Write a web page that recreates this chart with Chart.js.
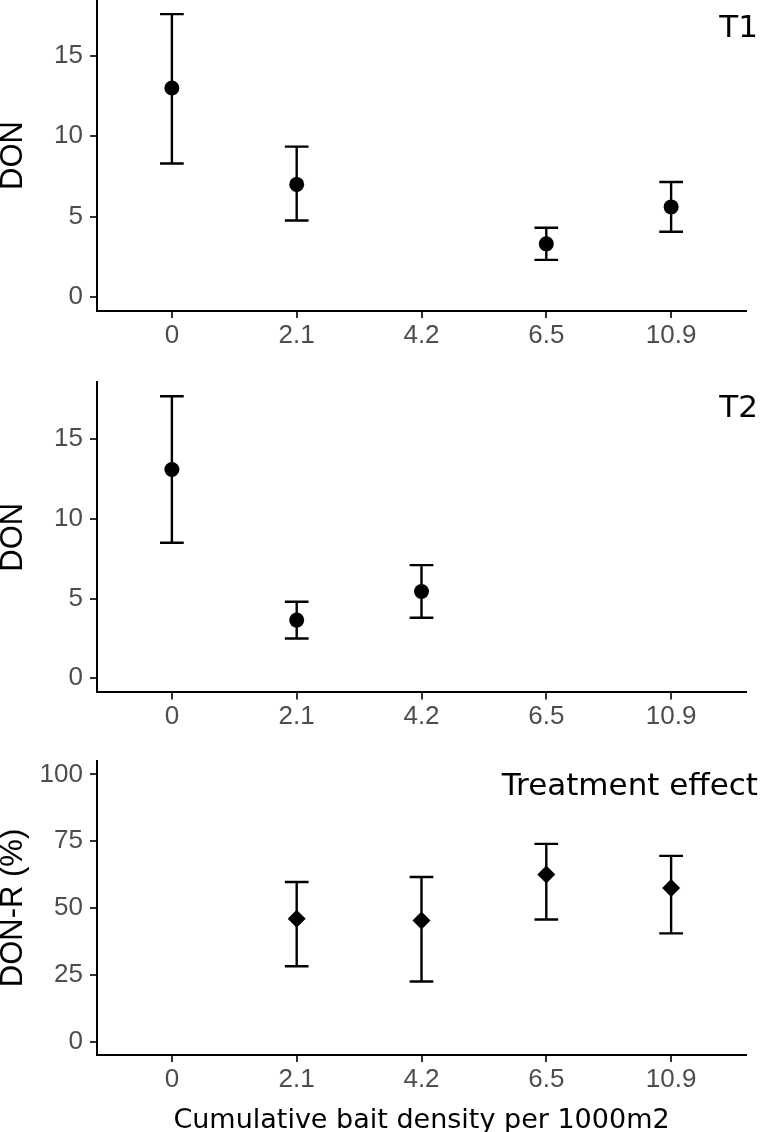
<!DOCTYPE html>
<html>
<head>
<meta charset="utf-8">
<script src="https://cdn.jsdelivr.net/npm/chart.js@4.4.0/dist/chart.umd.min.js"></script>
<style>
  html, body { margin: 0; padding: 0; background: #fff; }
  #wrap { position: relative; width: 760px; height: 1132px; overflow: hidden; }
  canvas { position: absolute; left: 0; }
</style>
</head>
<body>
<div id="wrap">
  <canvas id="t1Chart" width="760" height="370" style="top:-8px"></canvas>
  <canvas id="t2Chart" width="760" height="383" style="top:362px"></canvas>
  <canvas id="effChart" width="760" height="387" style="top:745px"></canvas>
</div>
<script>
// categories (bait density per 1000m2)
const densities = ["0", "2.1", "4.2", "6.5", "10.9"];

// T1 DON (mean and interval)
const t1Mean  = [13.0, 7.0,  null, 3.3,  5.6];
const t1Lower = [8.3,  4.75, null, 2.3,  4.05];
const t1Upper = [17.6, 9.35, null, 4.3,  7.15];

// T2 DON
const t2Mean  = [13.1, 3.65, 5.45, null, null];
const t2Lower = [8.5,  2.5,  3.8,  null, null];
const t2Upper = [17.7, 4.8,  7.1,  null, null];

// Treatment effect DON-R (%)
const effMean  = [null, 46.0, 45.3, 62.5, 57.5];
const effLower = [null, 28.2, 22.5, 45.7, 40.5];
const effUpper = [null, 59.7, 61.6, 74.0, 69.5];

// tick labels
const donTicks = [0, 5, 10, 15];
const pctTicks = [0, 25, 50, 75, 100];

const tickFont = { family: "'Liberation Sans', Arial, sans-serif", size: 26 };
const tickColor = "#4d4d4d";

// draws the vertical error bars with caps, under the points
const errorBars = {
    id: "errorBars",
    beforeDatasetsDraw(chart, args, opts) {
        const { ctx, scales: { x, y } } = chart;
        ctx.save();
        ctx.strokeStyle = "#000";
        ctx.lineWidth = 2.4;
        chart.data.datasets[0].data.forEach(p => {
            const px = x.getPixelForValue(p.x);
            const half = x.getPixelForValue(p.x + opts.capWidth / 2) - px;
            const yl = y.getPixelForValue(p.low);
            const yh = y.getPixelForValue(p.high);
            ctx.beginPath();
            ctx.moveTo(px, yl); ctx.lineTo(px, yh);
            ctx.moveTo(px - half, yl); ctx.lineTo(px + half, yl);
            ctx.moveTo(px - half, yh); ctx.lineTo(px + half, yh);
            ctx.stroke();
        });
        ctx.restore();
    }
};

// panel label in the top right corner
const panelLabel = {
    id: "panelLabel",
    afterDraw(chart, args, opts) {
        const ctx = chart.ctx;
        ctx.save();
        ctx.font = "31px 'DejaVu Sans', Verdana, sans-serif";
        ctx.fillStyle = "#000";
        ctx.textAlign = "right";
        ctx.textBaseline = "alphabetic";
        ctx.fillText(opts.text, chart.width - 2, chart.chartArea.top + opts.dy);
        ctx.restore();
    }
};

function makePanel(id, cfg) {
    const points = [];
    cfg.mean.forEach((m, i) => {
        if (m !== null) points.push({ x: i, y: m, low: cfg.lower[i], high: cfg.upper[i] });
    });

    return new Chart(document.getElementById(id), {
        type: "scatter",
        data: {
            datasets: [{
                data: points,
                pointStyle: cfg.marker,
                pointRadius: cfg.radius,
                pointHoverRadius: cfg.radius,
                pointBackgroundColor: "#000",
                pointBorderWidth: 0,
                borderWidth: 0,
            }],
        },
        options: {
            responsive: false,
            animation: false,
            devicePixelRatio: 1,
            layout: { padding: { left: 0, right: 14, top: cfg.top, bottom: 0 } },
            plugins: {
                legend: { display: false },
                tooltip: { enabled: false },
                errorBars: { capWidth: 0.19 },
                panelLabel: { text: cfg.label, dy: cfg.labelDy },
            },
            scales: {
                x: {
                    type: "linear",
                    min: -0.6,
                    max: densities.length - 0.4,
                    afterBuildTicks: s => { s.ticks = densities.map((d, i) => ({ value: i })); },
                    afterFit: s => { s.height = cfg.xHeight; s.paddingLeft = 0; s.paddingRight = 0; },
                    ticks: {
                        callback: v => densities[v],
                        font: tickFont,
                        color: tickColor,
                        padding: 2,
                        maxRotation: 0,
                        autoSkip: false,
                    },
                    grid: { drawOnChartArea: false, tickLength: 7, color: "#333", lineWidth: 2 },
                    border: { display: true, color: "#000", width: 2 },
                    title: {
                        display: !!cfg.xTitle,
                        text: cfg.xTitle || "",
                        color: "#000",
                        font: { family: "'DejaVu Sans', Verdana, sans-serif", size: 27, lineHeight: 0.8 },
                        padding: 0,
                    },
                },
                y: {
                    min: cfg.yMin,
                    max: cfg.yMax,
                    afterBuildTicks: s => { s.ticks = cfg.yTicks.map(v => ({ value: v })); },
                    afterFit: s => { s.width = 97; s.paddingTop = 0; s.paddingBottom = 0; },
                    ticks: { font: tickFont, color: tickColor, padding: 7 },
                    grid: { drawOnChartArea: false, tickLength: 7, color: "#333", lineWidth: 2 },
                    border: { display: true, color: "#000", width: 2 },
                    title: {
                        display: true,
                        text: cfg.yTitle,
                        color: "#000",
                        font: { family: "'Liberation Sans', Arial, sans-serif", size: 31, lineHeight: 0.87 },
                        padding: 0,
                    },
                },
            },
        },
        plugins: [errorBars, panelLabel],
    });
}

makePanel("t1Chart", {
    mean: t1Mean, lower: t1Lower, upper: t1Upper,
    marker: "circle", radius: 7.5,
    yMin: -0.88, yMax: 18.48, yTicks: donTicks, yTitle: "DON",
    label: "T1", labelDy: 37,
    top: 8, xHeight: 51,
});

makePanel("t2Chart", {
    mean: t2Mean, lower: t2Lower, upper: t2Upper,
    marker: "circle", radius: 7.5,
    yMin: -0.885, yMax: 18.59, yTicks: donTicks, yTitle: "DON",
    label: "T2", labelDy: 35,
    top: 20, xHeight: 52.6,
});

makePanel("effChart", {
    mean: effMean, lower: effLower, upper: effUpper,
    marker: "rectRot", radius: 9,
    yMin: -5, yMax: 105, yTicks: pctTicks, yTitle: "DON-R (%)",
    label: "Treatment effect", labelDy: 34,
    top: 16, xHeight: 77,
    xTitle: "Cumulative bait density per 1000m2",
});
</script>
</body>
</html>
